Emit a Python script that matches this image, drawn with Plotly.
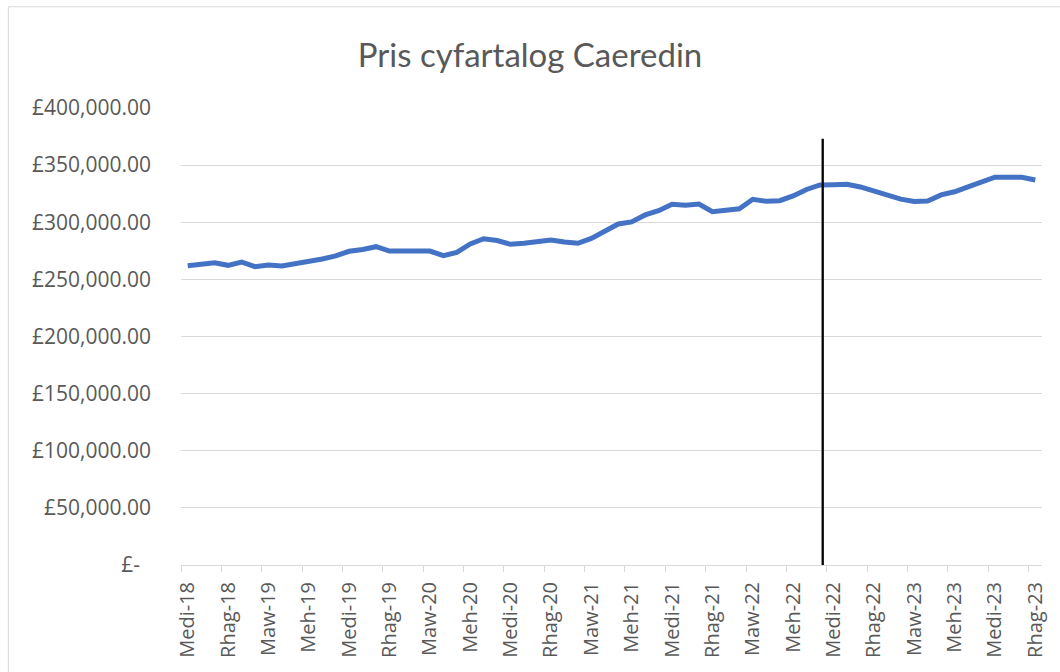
import plotly.graph_objects as go

# monthly average price, Sep 2018 .. Dec 2023
months = [
    "2018-09", "2018-10", "2018-11", "2018-12",
    "2019-01", "2019-02", "2019-03", "2019-04", "2019-05", "2019-06",
    "2019-07", "2019-08", "2019-09", "2019-10", "2019-11", "2019-12",
    "2020-01", "2020-02", "2020-03", "2020-04", "2020-05", "2020-06",
    "2020-07", "2020-08", "2020-09", "2020-10", "2020-11", "2020-12",
    "2021-01", "2021-02", "2021-03", "2021-04", "2021-05", "2021-06",
    "2021-07", "2021-08", "2021-09", "2021-10", "2021-11", "2021-12",
    "2022-01", "2022-02", "2022-03", "2022-04", "2022-05", "2022-06",
    "2022-07", "2022-08", "2022-09", "2022-10", "2022-11", "2022-12",
    "2023-01", "2023-02", "2023-03", "2023-04", "2023-05", "2023-06",
    "2023-07", "2023-08", "2023-09", "2023-10", "2023-11", "2023-12",
]
prices = [
    262000, 263500, 264600, 262300,
    265200, 261100, 262600, 261700, 263500, 266100,
    267800, 270500, 274600, 276200, 278600, 274800,
    274800, 274800, 274800, 270700, 273700, 281000,
    285600, 284000, 280700, 281600, 283300, 284500,
    282700, 281600, 285800, 291800, 298500, 300300,
    306400, 310100, 315700, 314800, 316000, 309200,
    310700, 311800, 320100, 318300, 318900, 323000,
    328700, 332600, 332900, 333200, 330900, 327400,
    323400, 320200, 318100, 318600, 323900, 326700,
    330900, 334800, 339400, 339400, 339400, 337000,
]

tick_idx = list(range(0, len(months), 3))
tick_text = [
    "Medi-18", "Rhag-18", "Maw-19", "Meh-19", "Medi-19", "Rhag-19",
    "Maw-20", "Meh-20", "Medi-20", "Rhag-20", "Maw-21", "Meh-21",
    "Medi-21", "Rhag-21", "Maw-22", "Meh-22", "Medi-22", "Rhag-22",
    "Maw-23", "Meh-23", "Medi-23", "Rhag-23",
]
y_ticks = [0, 50000, 100000, 150000, 200000, 250000, 300000, 350000, 400000]
y_text = ["£-\u00a0\u00a0"] + ["£{:,.2f}".format(v) for v in y_ticks[1:]]

marker_pos = 47.2  # hand-drawn divider, just before Sep 2022

grey = "#595959"
grid = "#d9d9d9"
n = len(months)

fig = go.Figure()
fig.add_trace(go.Scatter(
    x=list(range(n)), y=prices, mode="lines",
    line=dict(color="#4472C4", width=5),
    hoverinfo="y", showlegend=False,
))

fig.add_shape(type="line", xref="x", yref="y",
              x0=marker_pos, x1=marker_pos, y0=-2600, y1=373000,
              line=dict(color="black", width=2.3))

# chart frame (top / left edges visible)
fig.add_shape(type="line", xref="paper", yref="paper",
              x0=-0.2005, x1=1.1, y0=1.2215, y1=1.2215,
              line=dict(color=grid, width=1))
fig.add_shape(type="line", xref="paper", yref="paper",
              x0=-0.2005, x1=-0.2005, y0=-0.3, y1=1.2215,
              line=dict(color=grid, width=1))

fig.update_layout(
    width=1060, height=672,
    margin=dict(l=181, r=16, t=108, b=107),
    paper_bgcolor="white", plot_bgcolor="white",
    font=dict(family="Open Sans", color=grey, size=20),
    title=dict(text="Pris cyfartalog Caeredin", x=0.5, xanchor="center",
               y=0.918, yanchor="middle",
               font=dict(family="Lato", size=33, color=grey)),
    xaxis=dict(
        range=[-0.5, n - 0.5],
        tickmode="array", tickvals=tick_idx, ticktext=tick_text,
        tickangle=-90, ticks="", showgrid=False,
        showline=True, linecolor=grid, linewidth=1,
        zeroline=False,
        ticklabelstandoff=8,
        tickfont=dict(size=20, color=grey),
        minor=dict(tickmode="array",
                   tickvals=[i - 0.5 for i in tick_idx],
                   ticks="outside", ticklen=6, tickcolor=grid, tickwidth=1,
                   showgrid=False),
    ),
    yaxis=dict(
        range=[0, 400000],
        tickmode="array", tickvals=y_ticks, ticktext=y_text,
        showgrid=True, gridcolor=grid, gridwidth=1,
        zeroline=False, showline=False, ticks="",
        ticklabelstandoff=29,
        tickfont=dict(size=21, color=grey),
    ),
)

fig.write_html("out.html", config={"displayModeBar": False},
               post_script="document.body.style.margin='0';")
